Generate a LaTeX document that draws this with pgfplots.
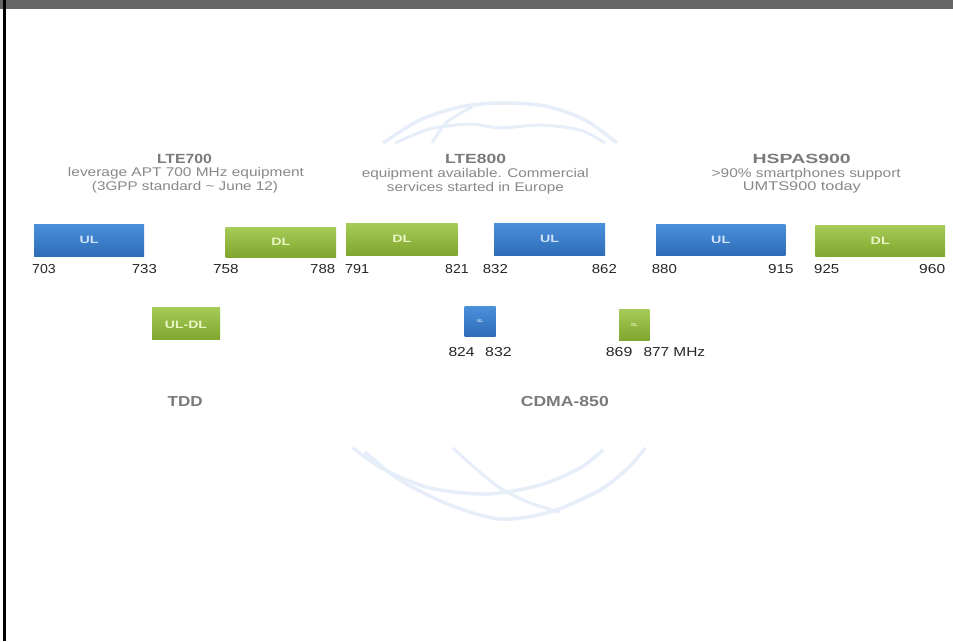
\documentclass[border=0pt]{standalone}
\usepackage{fontspec}
\setmainfont{Liberation Sans}
\usepackage{graphicx}
\usepackage{pgfplots}
\pgfplotsset{compat=1.18}
\definecolor{ulTop}{HTML}{4A8FDA}
\definecolor{ulBot}{HTML}{2E6DB8}
\definecolor{dlTop}{HTML}{A6CB58}
\definecolor{dlBot}{HTML}{7FA62E}
\definecolor{ttl}{HTML}{7A7A7A}
\definecolor{sub}{HTML}{888888}
\definecolor{num}{HTML}{262626}
\definecolor{glob}{HTML}{E6EEFA}
\definecolor{ulTxt}{HTML}{CFE2F7}
\definecolor{dlTxt}{HTML}{EAF5C6}
\definecolor{topbar}{HTML}{666666}
\newcommand{\fs}[1]{\fontsize{#1}{#1}\selectfont}
\newcommand{\W}[2]{\resizebox{#1pt}{\height}{#2}}
\begin{document}
\begin{tikzpicture}
\begin{axis}[scale only axis, width=953pt, height=641pt,
  xmin=0, xmax=953, ymin=0, ymax=641, y dir=reverse,
  hide axis, clip=false]
% background and frame
\addplot[fill=white, draw=none] coordinates {(0,0)(953,0)(953,641)(0,641)} -- cycle;
\addplot[fill=topbar, draw=none] coordinates {(0,0)(953,0)(953,8.5)(0,8.5)} -- cycle;
\addplot[fill=black, draw=none] coordinates {(3,0)(6,0)(6,641)(3,641)} -- cycle;
% watermark globe (top)
\addplot[glob, line width=3.5pt, smooth] coordinates {(383,143)(420,120)(460,107)(500,103)(545,106)(585,120)(617,143)};
\addplot[glob, line width=3pt, smooth] coordinates {(395,143)(430,129)(470,124)(500,128)(540,125)(580,130)(605,143)};
\addplot[glob, line width=3pt, smooth] coordinates {(432,143)(447,122)(472,107)};
% watermark globe (bottom)
\addplot[glob, line width=3.5pt, smooth] coordinates {(353,448)(385,470)(430,488)(487,494)(540,485)(580,468)(603,450)};
\addplot[glob, line width=3.5pt, smooth] coordinates {(365,452)(400,480)(450,505)(500,519)(550,512)(600,490)(630,466)(645,448)};
\addplot[glob, line width=3pt, smooth] coordinates {(453,448)(475,468)(500,488)(530,503)(560,512)};
% main bars
\addplot[draw=none, top color=ulTop, bottom color=ulBot] coordinates {(34,224)(144,224)(144,256)(34,256)} -- cycle;
\addplot[draw=none, top color=dlTop, bottom color=dlBot] coordinates {(225.7,227)(336,227)(336,257.3)(225.7,257.3)} -- cycle;
\addplot[draw=none, top color=dlTop, bottom color=dlBot] coordinates {(346,223.3)(457.7,223.3)(457.7,255)(346,255)} -- cycle;
\addplot[draw=none, top color=ulTop, bottom color=ulBot] coordinates {(494,223.3)(605,223.3)(605,255)(494,255)} -- cycle;
\addplot[draw=none, top color=ulTop, bottom color=ulBot] coordinates {(656,224)(785.3,224)(785.3,255.3)(656,255.3)} -- cycle;
\addplot[draw=none, top color=dlTop, bottom color=dlBot] coordinates {(815.3,225)(945,225)(945,256.7)(815.3,256.7)} -- cycle;
% small bars
\addplot[draw=none, top color=dlTop, bottom color=dlBot] coordinates {(152,307.3)(220,307.3)(220,339.3)(152,339.3)} -- cycle;
\addplot[draw=none, top color=ulTop, bottom color=ulBot] coordinates {(464.7,306.7)(495.7,306.7)(495.7,336)(464.7,336)} -- cycle;
\addplot[draw=none, top color=dlTop, bottom color=dlBot] coordinates {(619,309.3)(649.7,309.3)(649.7,340)(619,340)} -- cycle;
% labels inside bars
\begin{scope}[every node/.style={inner sep=0pt, anchor=center}]
\node[text=ulTxt] at (axis cs:89,240.3) {\W{19}{\fs{10.7}\bfseries UL}};
\node[text=dlTxt] at (axis cs:280.8,242.3) {\W{19}{\fs{10.7}\bfseries DL}};
\node[text=dlTxt] at (axis cs:401.8,239.3) {\W{19}{\fs{10.7}\bfseries DL}};
\node[text=ulTxt] at (axis cs:549.5,239.3) {\W{19}{\fs{10.7}\bfseries UL}};
\node[text=ulTxt] at (axis cs:720.7,239.8) {\W{19}{\fs{10.7}\bfseries UL}};
\node[text=dlTxt] at (axis cs:880.2,241) {\W{19}{\fs{10.7}\bfseries DL}};
\node[text=dlTxt] at (axis cs:186,324.8) {\W{42}{\fs{10.7}\bfseries UL-DL}};
\node[text=ulTxt] at (axis cs:480.2,321.3) {\fs{4.5}\bfseries UL};
\node[text=dlTxt] at (axis cs:634.4,324.7) {\fs{4.5}\bfseries DL};
\end{scope}
% titles
\begin{scope}[every node/.style={inner sep=0pt, anchor=base}]
\node[text=ttl] at (axis cs:184.5,163) {\W{55}{\fs{13.3}\bfseries LTE700}};
\node[text=sub] at (axis cs:186,176.5) {\W{236}{\fs{12.6}leverage APT 700 MHz equipment}};
\node[text=sub] at (axis cs:185,190.5) {\W{186}{\fs{12.6}(3GPP standard \textasciitilde{} June 12)}};
\node[text=ttl] at (axis cs:475.5,163) {\W{61}{\fs{13.3}\bfseries LTE800}};
\node[text=sub] at (axis cs:475.4,177) {\W{227}{\fs{12.6}equipment available. Commercial}};
\node[text=sub] at (axis cs:475.4,191.5) {\W{177}{\fs{12.6}services started in Europe}};
\node[text=ttl] at (axis cs:801.7,163) {\W{98}{\fs{13.3}\bfseries HSPAS900}};
\node[text=sub] at (axis cs:806.2,177) {\W{189}{\fs{12.6}>90\% smartphones support}};
\node[text=sub] at (axis cs:801.9,190.5) {\W{118}{\fs{12.6}UMTS900 today}};
\node[text=ttl] at (axis cs:185.2,406.7) {\W{35}{\fs{14.5}\bfseries TDD}};
\node[text=ttl] at (axis cs:564.8,406.7) {\W{88}{\fs{14.5}\bfseries CDMA-850}};
\end{scope}
% frequency numbers
\begin{scope}[every node/.style={inner sep=0pt, anchor=base west, text=num}]
\node at (axis cs:32,273.3) {\W{23.5}{\fs{13}703}};
\node at (axis cs:131.7,273.3) {\W{25}{\fs{13}733}};
\node at (axis cs:213,273.3) {\W{25.5}{\fs{13}758}};
\node at (axis cs:310,273.3) {\W{25}{\fs{13}788}};
\node at (axis cs:345,273.3) {\W{24}{\fs{13}791}};
\node at (axis cs:445,273.3) {\W{23.5}{\fs{13}821}};
\node at (axis cs:482.7,273.3) {\W{25}{\fs{13}832}};
\node at (axis cs:591.7,273.3) {\W{25}{\fs{13}862}};
\node at (axis cs:651.7,273.3) {\W{25}{\fs{13}880}};
\node at (axis cs:768,273.3) {\W{25.5}{\fs{13}915}};
\node at (axis cs:814,273.3) {\W{25}{\fs{13}925}};
\node at (axis cs:919,273.3) {\W{26}{\fs{13}960}};
\node at (axis cs:448.3,356) {\W{26}{\fs{13}824}};
\node at (axis cs:485,356) {\W{26.5}{\fs{13}832}};
\node at (axis cs:605.7,356) {\W{26.5}{\fs{13}869}};
\node at (axis cs:643.3,356) {\W{61.7}{\fs{13}877 MHz}};
\end{scope}
\end{axis}
\end{tikzpicture}
\end{document}
